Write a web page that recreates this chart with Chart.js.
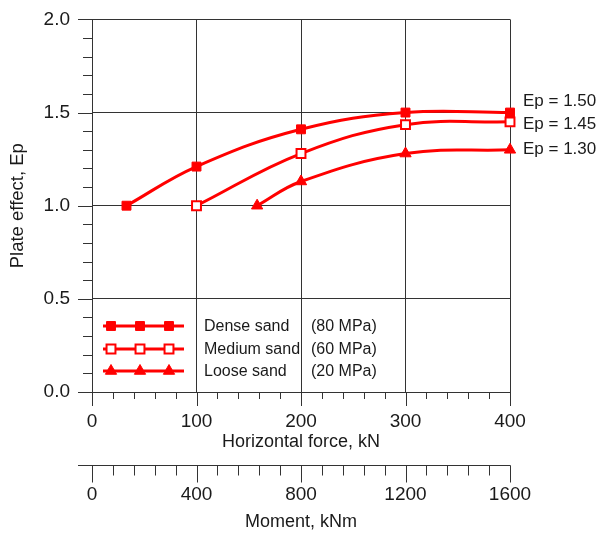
<!DOCTYPE html>
<html>
<head>
<meta charset="utf-8">
<title>Plate effect vs horizontal force</title>
<script src="https://cdn.jsdelivr.net/npm/chart.js@4.4.1/dist/chart.umd.min.js"></script>
<style>
  html, body { margin: 0; padding: 0; background: #fff; }
  #wrap { width: 610px; height: 537px; }
</style>
</head>
<body>
<div id="wrap"><canvas id="plateChart" width="610" height="537"></canvas></div>
<script>
// Values (horizontal force in kN, plate effect Ep)
const denseForce  = [33, 100, 200, 300, 400];
const denseEp     = [1.00, 1.21, 1.41, 1.50, 1.50];
const mediumForce = [100, 200, 300, 400];
const mediumEp    = [1.00, 1.28, 1.435, 1.45];
const looseForce  = [158, 200, 300, 400];
const looseEp     = [1.00, 1.13, 1.28, 1.30];

const seriesNames   = ['Dense sand', 'Medium sand', 'Loose sand'];
const seriesModulus = ['(80 MPa)', '(60 MPa)', '(20 MPa)'];
const endLabels     = ['Ep = 1.50', 'Ep = 1.45', 'Ep = 1.30'];

// Tick values
const forceTicks  = [0, 100, 200, 300, 400];
const momentTicks = [0, 400, 800, 1200, 1600];
const epTicks     = [0, 0.5, 1.0, 1.5, 2.0];

const RED = '#ff0000';
const GRID = '#333333';
const TEXT = '#1a1a1a';
const FONT = '"Liberation Sans", Arial, sans-serif';

function toPoints(xs, ys) {
    return xs.map((x, i) => ({ x: x, y: ys[i] }));
}

function markerPath(ctx, style, x, y, r) {
    ctx.beginPath();
    if (style === 'triangle') {
        ctx.moveTo(x, y - r);
        ctx.lineTo(x + r * 0.866, y + r * 0.5);
        ctx.lineTo(x - r * 0.866, y + r * 0.5);
        ctx.closePath();
    } else {
        const s = r * Math.SQRT1_2;
        ctx.rect(x - s, y - s, 2 * s, 2 * s);
    }
}

// Minor tick marks, the moment axis line, the inside legend and the Ep labels
const extrasPlugin = {
    id: 'extras',
    afterDraw(chart) {
        const ctx = chart.ctx;
        const xs = chart.scales.x, ms = chart.scales.x2, ys = chart.scales.y;
        const area = chart.chartArea;
        const al = v => Math.round(v) + 0.5;
        ctx.save();
        ctx.strokeStyle = GRID;
        ctx.lineWidth = 1;
        ctx.beginPath();
        // y axis ticks, every 0.1, pointing out
        for (let i = 0; i <= 20; i++) {
            const py = al(ys.getPixelForValue(i / 10));
            ctx.moveTo(area.left - (i % 5 === 0 ? 14 : 9), py);
            ctx.lineTo(area.left, py);
        }
        // force axis ticks, every 20 kN
        for (let v = 0; v <= 400; v += 20) {
            const px = al(xs.getPixelForValue(v));
            ctx.moveTo(px, area.bottom);
            ctx.lineTo(px, area.bottom + (v % 100 === 0 ? 14 : 7));
        }
        // moment axis line and ticks, every 80 kNm
        const my = al(ms.top);
        ctx.moveTo(area.left - 14, my);
        ctx.lineTo(al(ms.getPixelForValue(1600)), my);
        for (let v = 0; v <= 1600; v += 80) {
            const px = al(ms.getPixelForValue(v));
            ctx.moveTo(px, my);
            ctx.lineTo(px, my + (v % 400 === 0 ? 17 : 10));
        }
        ctx.stroke();

        // legend inside the plot
        const rows = [area.bottom - 66, area.bottom - 43, area.bottom - 21];
        chart.data.datasets.forEach((ds, i) => {
            const yy = rows[i];
            ctx.strokeStyle = ds.borderColor;
            ctx.lineWidth = 3;
            ctx.beginPath();
            ctx.moveTo(area.left + 11, yy);
            ctx.lineTo(area.left + 92, yy);
            ctx.stroke();
            [area.left + 19, area.left + 48, area.left + 77].forEach(mx => {
                markerPath(ctx, ds.pointStyle, mx, yy, ds.pointRadius);
                ctx.fillStyle = ds.pointBackgroundColor;
                ctx.fill();
                ctx.lineWidth = ds.pointBorderWidth;
                ctx.strokeStyle = ds.pointBorderColor;
                ctx.stroke();
            });
            ctx.fillStyle = TEXT;
            ctx.font = '16px ' + FONT;
            ctx.textAlign = 'left';
            ctx.textBaseline = 'middle';
            ctx.fillText(seriesNames[i], area.left + 112, yy + 1);
            ctx.fillText(seriesModulus[i], area.left + 219, yy + 1);
        });

        // Ep labels at the right end of each curve
        const offsets = [-11, 2, 0];
        ctx.font = '17px ' + FONT;
        ctx.fillStyle = TEXT;
        chart.data.datasets.forEach((ds, i) => {
            const last = ds.data[ds.data.length - 1];
            ctx.fillText(endLabels[i], area.right + 13, ys.getPixelForValue(last.y) + offsets[i]);
        });
        ctx.restore();
    }
};

function seriesStyle(style, filled) {
    return {
        borderColor: RED,
        borderWidth: 3,
        tension: 0.4,
        fill: false,
        clip: false,
        pointStyle: style,
        pointRadius: style === 'triangle' ? 6.5 : 6.3,
        pointHoverRadius: 6.3,
        pointBackgroundColor: filled ? RED : '#ffffff',
        pointBorderColor: RED,
        pointBorderWidth: filled ? 1 : 2
    };
}

const ctx = document.getElementById('plateChart').getContext('2d');
new Chart(ctx, {
    type: 'line',
    data: {
        datasets: [
            Object.assign({ label: seriesNames[0], data: toPoints(denseForce, denseEp) }, seriesStyle('rect', true)),
            Object.assign({ label: seriesNames[1], data: toPoints(mediumForce, mediumEp) }, seriesStyle('rect', false)),
            Object.assign({ label: seriesNames[2], data: toPoints(looseForce, looseEp) }, seriesStyle('triangle', true))
        ]
    },
    options: {
        responsive: false,
        animation: false,
        layout: { padding: { top: 17, right: 100, bottom: 0, left: 0 } },
        plugins: { legend: { display: false }, tooltip: { enabled: false } },
        scales: {
            x: {
                type: 'linear', position: 'bottom', min: 0, max: 400,
                afterBuildTicks: s => { s.ticks = forceTicks.map(v => ({ value: v })); },
                afterFit: s => { s.height = 73; },
                grid: { color: GRID, lineWidth: 1, tickLength: 14, tickColor: 'rgba(0,0,0,0)' },
                border: { display: true, color: GRID, width: 1 },
                ticks: { color: TEXT, font: { family: FONT, size: 19 }, padding: 4, maxRotation: 0, autoSkip: false, callback: v => String(v) },
                title: { display: true, text: 'Horizontal force, kN', color: TEXT, font: { family: FONT, size: 18 }, padding: { top: 0, bottom: 12 } }
            },
            x2: {
                type: 'linear', position: 'bottom', min: 0, max: 1600,
                afterBuildTicks: s => { s.ticks = momentTicks.map(v => ({ value: v })); },
                afterFit: s => { s.height = 72; },
                grid: { drawOnChartArea: false, tickLength: 17, tickColor: 'rgba(0,0,0,0)' },
                border: { display: false },
                ticks: { color: TEXT, font: { family: FONT, size: 19 }, padding: 1, maxRotation: 0, autoSkip: false, callback: v => String(v) },
                title: { display: true, text: 'Moment, kNm', color: TEXT, font: { family: FONT, size: 18 }, padding: { top: 0, bottom: 4 } }
            },
            y: {
                type: 'linear', position: 'left', min: 0, max: 2,
                afterBuildTicks: s => { s.ticks = epTicks.map(v => ({ value: v })); },
                afterFit: s => { s.width = 92; },
                grid: { color: GRID, lineWidth: 1, tickLength: 14, tickColor: 'rgba(0,0,0,0)' },
                border: { display: true, color: GRID, width: 1 },
                ticks: { color: TEXT, font: { family: FONT, size: 19 }, padding: 8, callback: v => v.toFixed(1) },
                title: { display: true, text: 'Plate effect, Ep', color: TEXT, font: { family: FONT, size: 18.5 }, padding: { top: 7, bottom: 0 } }
            }
        }
    },
    plugins: [extrasPlugin]
});
</script>
</body>
</html>
